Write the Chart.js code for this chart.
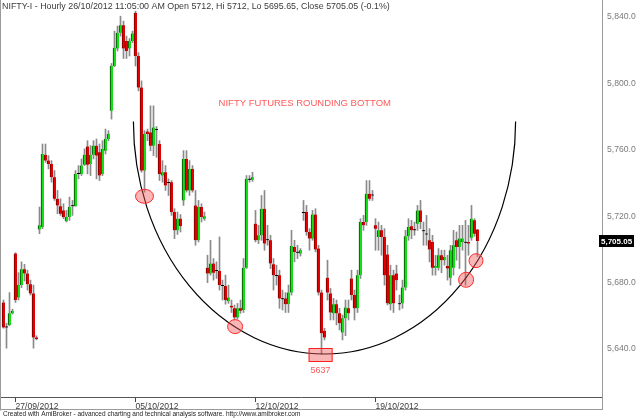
<!DOCTYPE html>
<html><head><meta charset="utf-8">
<script src="https://cdn.jsdelivr.net/npm/chart.js@4.4.0/dist/chart.umd.min.js"></script>
<style>html,body{margin:0;padding:0;background:#fff;overflow:hidden}canvas{display:block}</style>
</head><body>
<canvas id="c" width="640" height="418"></canvas>
<script>
// ---- data (hourly bars, index 0 = last bars of 26/09/2012) ----
const openP = [5668,5653,5654.5,5661.5,5697.5,5671,5678.5,5688,5685.5,5679,
5673.5,5647,5712,5713.5,5757,5753.5,5751.5,5743.5,5730.5,5726,
5723.5,5717,5719.5,5726,5726,5745.5,5745.5,5751,5762,5751.5,
5757,5762.5,5758.5,5745.5,5759.5,5766.5,5783.5,5810.5,5821,5830.5,
5835,5825.5,5821,5825.5,5842.5,5816.5,5797.5,5747.5,5771,5770.5,
5762.5,5772.5,5763.5,5744.5,5746.5,5740.5,5740.5,5722.5,5711.5,5718.5,
5729.5,5754.5,5735.5,5748.5,5726.5,5705.5,5725.5,5718.5,5689,5685.5,
5691.5,5687.5,5687,5678.5,5678,5669,5666,5664.5,5659,5664.5,
5663.5,5689,5742.5,5742,5715.5,5705.5,5708.5,5724.5,5706,5705.5,
5691,5684.5,5684.5,5670.5,5670.5,5667,5674,5701.5,5698.5,5697.5,
5722.5,5722.5,5710.5,5706.5,5721,5700.5,5674,5651,5683,5673.5,
5661.5,5667,5661.5,5650,5658.5,5664.5,5682.5,5672.5,5664.5,5684.5,
5716.5,5716.5,5733.5,5733,5714.5,5707.5,5711.5,5707.5,5697,5667,
5684.5,5685.5,5667.5,5667.5,5677,5708,5714,5712,5715.5,5723.5,
5711.5,5709.5,5705.5,5704.5,5689,5689,5696.5,5693.5,5690,5683,
5689,5705.5,5701.5,5704.5,5704.5,5704.5,5707,5717.5,5712];
const highP = [5669.5,5655.5,5674,5664,5698,5686,5692.5,5691,5687.5,5681.5,
5678.5,5648,5725.5,5763.5,5763.5,5756.5,5753.5,5747.5,5735.5,5730.5,
5727.5,5723.5,5731.5,5729.5,5747.5,5750.5,5754.5,5760.5,5765.5,5762.5,
5765.5,5766.5,5763.5,5765.5,5772.5,5771.5,5812,5831.5,5834.5,5840.5,
5837.5,5828.5,5827,5831.5,5843.5,5818.5,5801.5,5771.5,5772.5,5786.5,
5786.5,5774,5765.5,5753.5,5750.5,5742.5,5741.5,5724.5,5722.5,5721,
5759.5,5759.5,5753.5,5750.5,5735.5,5729.5,5727.5,5722.5,5696.5,5705.5,
5694.5,5692.5,5707.5,5681.5,5684.5,5678.5,5669.5,5666.5,5667.5,5669.5,
5694.5,5744.5,5744.5,5746.5,5723.5,5714.5,5732.5,5735.5,5714.5,5708.5,
5694.5,5690.5,5687.5,5675.5,5674,5678.5,5711.5,5705.5,5702.5,5700.5,
5729.5,5726.5,5712.5,5723.5,5724.5,5702.5,5675.5,5652.5,5693.5,5676.5,
5670.5,5669.5,5664.5,5660.5,5669.5,5669.5,5687.5,5675.5,5687.5,5718.5,
5720.5,5741.5,5741.5,5735.5,5718.5,5716.5,5714.5,5712.5,5702.5,5690.5,
5687.5,5690.5,5672.5,5681.5,5711.5,5718.5,5717.5,5716.5,5726.5,5729.5,
5716.5,5720.5,5712.5,5708.5,5696.5,5700.5,5699.5,5699.5,5696.5,5702.5,
5711.5,5710.5,5714.5,5714.5,5717.5,5714.5,5726.5,5718.5,5712];
const lowP = [5652.5,5640.5,5654,5661,5668,5669.5,5677,5681,5675.5,5672.5,
5640.5,5645.5,5709.5,5712.5,5752.5,5748.5,5740.5,5729.5,5721.5,5720.5,
5718.5,5716.5,5717.5,5720.5,5726,5742.5,5744.5,5750.5,5745.5,5744.5,
5754.5,5742.5,5741.5,5744.5,5757.5,5765.5,5778.5,5810,5819.5,5828.5,
5815,5815,5816.5,5824.5,5810.5,5795.5,5746.5,5734.5,5765.5,5759.5,
5756.5,5755.5,5741.5,5740.5,5735.5,5732.5,5720.5,5706.5,5709,5710.5,
5726.5,5734.5,5732.5,5734.5,5702.5,5704.5,5716.5,5717.5,5680,5684.5,
5681.5,5682.5,5675.5,5669.5,5667,5667.5,5662,5657.5,5658,5661.5,
5662,5688.5,5740.5,5741,5704.5,5703.5,5705.5,5699.5,5702.5,5688.5,
5675.5,5678.5,5664.5,5663.5,5662,5662,5672.5,5692.5,5694.5,5696,
5717.5,5708.5,5699.5,5705.5,5698.5,5672.5,5637,5645.5,5669.5,5657.5,
5657.5,5654.5,5651.5,5645.5,5648,5657.5,5669.5,5657.5,5662,5682.5,
5711.5,5714.5,5729.5,5729.5,5699.5,5699.5,5696.5,5678.5,5666.5,5663.5,
5662,5675.5,5663.5,5664.5,5675.5,5705.5,5706.5,5708.5,5711.5,5712.5,
5702.5,5702.5,5692.5,5684.5,5684.5,5687.5,5686,5690.5,5681.5,5678.5,
5684.5,5693.5,5688.5,5699.5,5678.5,5696.5,5705.5,5708,5695.65];
const closeP = [5653,5653.5,5661.5,5663,5669.5,5678.5,5688,5685.5,5679,5673.5,
5647,5646,5714.5,5757.5,5753.5,5751.5,5743.5,5730.5,5726.5,5721.5,
5719.5,5719.5,5725.5,5726.5,5745.5,5746,5750.5,5757,5751,5757,
5762.5,5756.5,5744.5,5760.5,5766.5,5769.5,5810.5,5821.5,5830.5,5835,
5821,5819.5,5825.5,5830,5816.5,5797.5,5747.5,5769.5,5769.5,5762.5,
5773.5,5772,5745.5,5746.5,5738.5,5740,5722.5,5711.5,5718.5,5714,
5754.5,5735.5,5748.5,5735.5,5705.5,5725.5,5719.5,5720,5685.5,5691.5,
5686,5687,5678.5,5678,5669.5,5671,5665,5659,5664.5,5663,
5689,5742.5,5742,5743.5,5705.5,5708.5,5724.5,5703.5,5705.5,5691.5,
5684.5,5684,5670.5,5670,5667,5674,5702,5698.5,5698,5699.5,
5722,5710.5,5706.5,5721,5700,5674,5649.5,5647,5674,5662,
5667,5661.5,5655.5,5658.5,5665,5661.5,5672.5,5664.5,5684.5,5716.5,
5714.5,5733.5,5730.5,5732.5,5712.5,5711.5,5707.5,5684.5,5667.5,5684.5,
5667.5,5681.5,5667,5677,5708,5713.5,5711.5,5711.5,5723.5,5716.5,
5711,5709,5700,5689,5690,5696.5,5693.5,5695.5,5688.5,5699.5,
5702.5,5701.5,5706.5,5706.5,5704,5703.5,5718.5,5709.5,5705.05];

const dateTickIndex = [4, 44, 84, 124];
const dateTickLabels = ['27/09/2012', '05/10/2012', '12/10/2012', '19/10/2012'];
const priceTicks = [5640, 5680, 5720, 5760, 5800, 5840];

const titleText = 'NIFTY-I - Hourly 26/10/2012 11:05:00 AM Open 5712, Hi 5712, Lo 5695.65, Close 5705.05 (-0.1%)';
const footerText = 'Created with AmiBroker - advanced charting and technical analysis software. http://www.amibroker.com';
const noteText = 'NIFTY FUTURES ROUNDING BOTTOM';
const lastClose = 5705.05;
const lowValue = 5637;
const lowIndex = 106;
// hand-drawn annotation anchors (bar index / price)
const noteAnchor = [71.7, 5787.7];
const markIdx = [47, 77.2, 154.2, 157.5];
const markPrice = [5732, 5653.5, 5681.7, 5693.2];
const arcCenter = [107, 5777];
const arcHalfWidth = 63.7; // in bars

// ---- datasets ----
const idx = openP.map((_, i) => i);
const wickData = idx.map(i => ({x: i, y: [lowP[i], highP[i]]}));
const bodyData = idx.map(i => ({x: i, y: [openP[i], closeP[i]]}));
const isDoji = i => Math.abs(openP[i] - closeP[i]) < 0.6;
const bodyFill = idx.map(i => isDoji(i) ? '#000000' : (closeP[i] > openP[i] ? '#12e012' : '#e40000'));
const bodyEdge = idx.map(i => isDoji(i) ? '#000000' : (closeP[i] > openP[i] ? '#0a3a0a' : '#6a0000'));

const FONT = '"Liberation Sans", Arial, sans-serif';

const overlay = {
  id: 'overlay',
  afterDatasetsDraw(chart) {
    const {ctx, chartArea: ca, scales: {x, y}} = chart;
    ctx.save();
    // rounding-bottom arc
    const cx = x.getPixelForValue(arcCenter[0]);
    const cy = y.getPixelForValue(arcCenter[1]);
    const rx = x.getPixelForValue(arcCenter[0] + arcHalfWidth) - cx;
    const ry = y.getPixelForValue(lowValue) - cy;
    ctx.beginPath();
    ctx.ellipse(cx, cy, rx, ry, 0, 0, Math.PI);
    ctx.strokeStyle = '#000';
    ctx.lineWidth = 1.2;
    ctx.stroke();
    // red circles
    const sizes = [[9, 7], [7.5, 7], [7.5, 7.5], [7, 7]];
    markIdx.forEach((m, k) => {
      const px = x.getPixelForValue(m), py = y.getPixelForValue(markPrice[k]);
      ctx.beginPath();
      ctx.ellipse(px, py, sizes[k][0], sizes[k][1], 0, 0, Math.PI * 2);
      ctx.fillStyle = 'rgba(240,80,80,0.42)';
      ctx.fill();
      ctx.strokeStyle = '#ff2a2a';
      ctx.lineWidth = 1;
      ctx.stroke();
    });
    // low box
    const lx = x.getPixelForValue(lowIndex - 0.3), ly = y.getPixelForValue(lowValue);
    ctx.fillStyle = 'rgba(240,80,80,0.42)';
    ctx.fillRect(lx - 12, ly - 6, 24, 14);
    ctx.strokeStyle = '#ff2020';
    ctx.strokeRect(lx - 11.5, ly - 5.5, 23, 13);
    ctx.fillStyle = '#ff5a5a';
    ctx.font = '9px ' + FONT;
    ctx.textAlign = 'center';
    ctx.textBaseline = 'middle';
    ctx.fillText(String(lowValue), lx, ly + 17);
    // note
    ctx.textAlign = 'left';
    ctx.font = '9.5px ' + FONT;
    ctx.fillText(noteText, x.getPixelForValue(noteAnchor[0]), y.getPixelForValue(noteAnchor[1]));
    ctx.restore();
  },
  afterDraw(chart) {
    const {ctx, chartArea: ca, scales: {y}} = chart;
    ctx.save();
    // frame
    ctx.strokeStyle = '#9a9a9a';
    ctx.lineWidth = 1;
    ctx.beginPath();
    ctx.moveTo(0.5, 0); ctx.lineTo(0.5, 410.5);
    ctx.moveTo(0, 409.5); ctx.lineTo(ca.right + 0.5, 409.5);
    ctx.moveTo(ca.right + 0.5, ca.bottom); ctx.lineTo(ca.right + 0.5, 410);
    ctx.stroke();
    // title
    ctx.fillStyle = '#3a3a3a';
    ctx.font = '8.9px ' + FONT;
    ctx.textAlign = 'left';
    ctx.textBaseline = 'middle';
    ctx.fillText(titleText, 2, 7);
    // footer
    ctx.fillStyle = '#222';
    ctx.font = '6.5px ' + FONT;
    ctx.fillText(footerText, 3, 414);
    // last price box
    const py = Math.round(y.getPixelForValue(lastClose));
    ctx.fillStyle = '#000';
    ctx.fillRect(ca.right - 3, py - 6, 35, 12);
    ctx.fillStyle = '#fff';
    ctx.font = 'bold 8px ' + FONT;
    ctx.fillText(lastClose.toFixed(2).replace(/^(\d)(\d{3})/, '$1,$2'), ca.right - 1, py + 0.5);
    ctx.restore();
  }
};

new Chart(document.getElementById('c'), {
  type: 'bar',
  data: {
    datasets: [
      {
        label: 'body', data: bodyData, order: 0, grouped: false,
        backgroundColor: bodyFill, borderColor: bodyEdge,
        borderWidth: {left: 1, right: 0, top: 0, bottom: 0}, borderSkipped: false,
        barThickness: 3, minBarLength: 1
      },
      {
        label: 'wick', data: wickData, order: 1, grouped: false,
        backgroundColor: '#8a8a8a', borderWidth: 0,
        barThickness: 1, minBarLength: 1
      }
    ]
  },
  options: {
    responsive: false,
    animation: false,
    devicePixelRatio: 1,
    events: [],
    layout: {padding: {left: 0, right: 0, top: 0, bottom: 8}},
    plugins: {legend: {display: false}, tooltip: {enabled: false}},
    scales: {
      x: {
        type: 'linear',
        offset: false,
        min: -1.1667,
        max: -1.1667 + 602 / 3,
        afterBuildTicks: s => { s.ticks = dateTickIndex.map(v => ({value: v})); },
        afterFit: s => { s.height = 13; s.paddingLeft = 0; s.paddingRight = 0; },
        ticks: {
          autoSkip: false, maxRotation: 0, align: 'start', padding: -1,
          color: '#3c3c3c', font: {family: FONT, size: 8.6},
          callback: v => dateTickLabels[dateTickIndex.indexOf(v)] || ''
        },
        grid: {display: true, drawOnChartArea: false, drawTicks: true, tickLength: 5, color: '#444', offset: false},
        border: {display: true, color: '#555', width: 1}
      },
      y: {
        position: 'right',
        min: 5611.1,
        max: 5850.24,
        afterBuildTicks: s => { s.ticks = priceTicks.map(v => ({value: v})); },
        afterFit: s => { s.width = 38; s.paddingTop = 0; s.paddingBottom = 0; },
        ticks: {
          padding: 5, color: '#7a7a7a', font: {family: FONT, size: 8.6},
          callback: v => v.toLocaleString('en-US', {minimumFractionDigits: 1, maximumFractionDigits: 1})
        },
        grid: {display: false, drawTicks: false},
        border: {display: true, color: '#9a9a9a', width: 1}
      }
    }
  },
  plugins: [overlay]
});
</script>
</body></html>
